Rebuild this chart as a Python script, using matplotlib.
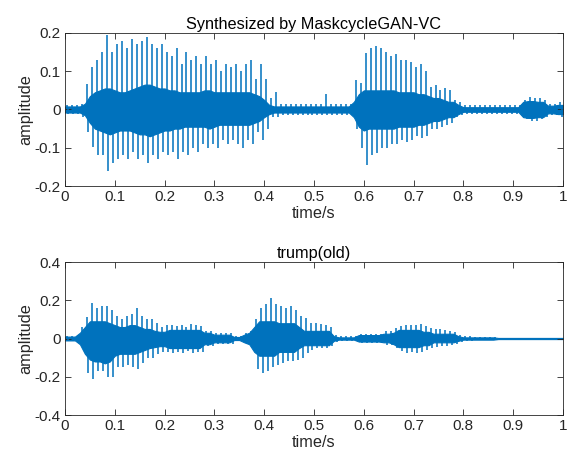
import numpy as np
import matplotlib
matplotlib.use('Agg')
import matplotlib.pyplot as plt

plt.rcParams['font.family'] = ['Liberation Sans', 'DejaVu Sans']

# time grid of the read-off envelope (one value every 10 ms)
t = np.round(np.arange(0, 1.001, 0.01), 2)

# ---- Synthesized by MaskcycleGAN-VC ----
# pitch-pulse peaks (upper / lower)
syn_peak_hi = [0.012, 0.012, 0.012, 0.015, 0.067, 0.11, 0.13, 0.15, 0.195, 0.15,
               0.17, 0.18, 0.16, 0.185, 0.17, 0.18, 0.19, 0.17, 0.16, 0.17,
               0.15, 0.14, 0.16, 0.12, 0.15, 0.13, 0.14, 0.12, 0.14, 0.12,
               0.13, 0.10, 0.12, 0.11, 0.12, 0.10, 0.12, 0.13, 0.08, 0.12,
               0.08, 0.03, 0.045, 0.015, 0.015, 0.015, 0.015, 0.015, 0.015, 0.015,
               0.015, 0.015, 0.04, 0.015, 0.015, 0.015, 0.015, 0.015, 0.077, 0.07,
               0.147, 0.16, 0.165, 0.16, 0.15, 0.14, 0.145, 0.13, 0.13, 0.125,
               0.11, 0.12, 0.10, 0.06, 0.065, 0.05, 0.055, 0.05, 0.025, 0.02,
               0.012, 0.012, 0.012, 0.012, 0.012, 0.012, 0.012, 0.012, 0.012, 0.012,
               0.012, 0.012, 0.025, 0.033, 0.03, 0.03, 0.025, 0.015, 0.015, 0.02,
               0.015]
syn_peak_lo = [-0.012, -0.012, -0.012, -0.02, -0.058, -0.097, -0.12, -0.12, -0.16, -0.14,
               -0.13, -0.12, -0.13, -0.11, -0.13, -0.12, -0.14, -0.12, -0.13, -0.11,
               -0.12, -0.11, -0.13, -0.11, -0.12, -0.10, -0.11, -0.09, -0.10, -0.09,
               -0.10, -0.08, -0.09, -0.08, -0.09, -0.10, -0.08, -0.09, -0.06, -0.08,
               -0.05, -0.02, -0.02, -0.015, -0.015, -0.015, -0.015, -0.015, -0.015, -0.015,
               -0.015, -0.015, -0.015, -0.015, -0.015, -0.015, -0.015, -0.015, -0.05, -0.10,
               -0.145, -0.12, -0.115, -0.10, -0.10, -0.09, -0.09, -0.08, -0.085, -0.08,
               -0.07, -0.075, -0.07, -0.05, -0.05, -0.045, -0.04, -0.035, -0.02, -0.015,
               -0.012, -0.012, -0.012, -0.012, -0.012, -0.012, -0.012, -0.012, -0.012, -0.012,
               -0.012, -0.012, -0.025, -0.03, -0.03, -0.025, -0.02, -0.015, -0.015, -0.02,
               -0.015]
# dense core of the waveform (upper / lower)
syn_core_hi = [0.008, 0.008, 0.008, 0.008, 0.015, 0.035, 0.045, 0.05, 0.055, 0.055,
               0.05, 0.045, 0.045, 0.05, 0.055, 0.06, 0.065, 0.065, 0.06, 0.055,
               0.055, 0.05, 0.05, 0.045, 0.045, 0.045, 0.045, 0.045, 0.05, 0.05,
               0.045, 0.045, 0.045, 0.045, 0.045, 0.045, 0.045, 0.045, 0.04, 0.035,
               0.025, 0.012, 0.008, 0.008, 0.008, 0.008, 0.008, 0.008, 0.008, 0.008,
               0.008, 0.008, 0.008, 0.008, 0.008, 0.008, 0.008, 0.008, 0.02, 0.04,
               0.05, 0.05, 0.05, 0.05, 0.05, 0.05, 0.05, 0.045, 0.045, 0.045,
               0.045, 0.04, 0.04, 0.035, 0.03, 0.03, 0.025, 0.02, 0.02, 0.012,
               0.006, 0.006, 0.006, 0.006, 0.006, 0.006, 0.006, 0.006, 0.006, 0.006,
               0.006, 0.006, 0.02, 0.022, 0.022, 0.02, 0.02, 0.01, 0.01, 0.012,
               0.012]
syn_core_lo = [-0.008, -0.008, -0.008, -0.008, -0.015, -0.035, -0.05, -0.055, -0.06, -0.065,
               -0.06, -0.055, -0.055, -0.055, -0.06, -0.065, -0.065, -0.07, -0.065, -0.06,
               -0.055, -0.055, -0.05, -0.05, -0.045, -0.045, -0.045, -0.045, -0.045, -0.05,
               -0.045, -0.04, -0.04, -0.04, -0.04, -0.04, -0.04, -0.04, -0.035, -0.03,
               -0.02, -0.012, -0.008, -0.008, -0.008, -0.008, -0.008, -0.008, -0.008, -0.008,
               -0.008, -0.008, -0.008, -0.008, -0.008, -0.008, -0.008, -0.008, -0.02, -0.045,
               -0.055, -0.05, -0.05, -0.05, -0.05, -0.05, -0.05, -0.045, -0.045, -0.045,
               -0.045, -0.04, -0.04, -0.035, -0.03, -0.03, -0.025, -0.02, -0.02, -0.012,
               -0.006, -0.006, -0.006, -0.006, -0.006, -0.006, -0.006, -0.006, -0.006, -0.006,
               -0.006, -0.006, -0.02, -0.022, -0.022, -0.02, -0.02, -0.01, -0.01, -0.012,
               -0.012]

# ---- trump(old) ----
old_peak_hi = [0.015, 0.015, 0.015, 0.06, 0.11, 0.185, 0.16, 0.17, 0.17, 0.15,
               0.12, 0.10, 0.12, 0.13, 0.16, 0.12, 0.10, 0.10, 0.08, 0.06,
               0.07, 0.07, 0.065, 0.07, 0.06, 0.075, 0.07, 0.065, 0.04, 0.04,
               0.03, 0.03, 0.03, 0.03, 0.015, 0.015, 0.03, 0.04, 0.10, 0.16,
               0.18, 0.21, 0.18, 0.17, 0.16, 0.17, 0.15, 0.12, 0.105, 0.08,
               0.08, 0.075, 0.07, 0.06, 0.02, 0.012, 0.012, 0.012, 0.012, 0.025,
               0.025, 0.025, 0.025, 0.025, 0.04, 0.04, 0.055, 0.065, 0.07, 0.07,
               0.07, 0.075, 0.065, 0.055, 0.05, 0.05, 0.045, 0.04, 0.035, 0.02,
               0.012, 0.012, 0.01, 0.01, 0.01, 0.008, 0.008, 0.005, 0.005, 0.005,
               0.005, 0.005, 0.005, 0.005, 0.005, 0.005, 0.005, 0.005, 0.005, 0.005,
               0.005]
old_peak_lo = [-0.015, -0.015, -0.015, -0.04, -0.18, -0.21, -0.17, -0.17, -0.20, -0.20,
               -0.15, -0.15, -0.14, -0.15, -0.16, -0.13, -0.10, -0.10, -0.08, -0.07,
               -0.07, -0.075, -0.07, -0.075, -0.065, -0.075, -0.07, -0.07, -0.04, -0.04,
               -0.03, -0.03, -0.03, -0.03, -0.015, -0.015, -0.03, -0.04, -0.16, -0.18,
               -0.17, -0.15, -0.14, -0.13, -0.12, -0.12, -0.11, -0.10, -0.075, -0.06,
               -0.05, -0.05, -0.05, -0.04, -0.02, -0.012, -0.012, -0.012, -0.012, -0.022,
               -0.022, -0.022, -0.022, -0.022, -0.035, -0.035, -0.05, -0.065, -0.075, -0.07,
               -0.075, -0.07, -0.06, -0.05, -0.045, -0.04, -0.04, -0.035, -0.03, -0.02,
               -0.012, -0.012, -0.01, -0.01, -0.01, -0.008, -0.008, -0.005, -0.005, -0.005,
               -0.005, -0.005, -0.005, -0.005, -0.005, -0.005, -0.005, -0.005, -0.005, -0.005,
               -0.005]
old_core_hi = [0.01, 0.01, 0.01, 0.03, 0.06, 0.09, 0.09, 0.09, 0.09, 0.08,
               0.07, 0.06, 0.06, 0.07, 0.07, 0.06, 0.05, 0.05, 0.04, 0.035,
               0.035, 0.045, 0.045, 0.045, 0.045, 0.045, 0.045, 0.045, 0.03, 0.03,
               0.02, 0.02, 0.02, 0.02, 0.008, 0.008, 0.02, 0.03, 0.06, 0.09,
               0.09, 0.09, 0.09, 0.08, 0.08, 0.08, 0.08, 0.06, 0.04, 0.04,
               0.04, 0.04, 0.04, 0.04, 0.012, 0.006, 0.006, 0.006, 0.006, 0.018,
               0.018, 0.018, 0.018, 0.018, 0.025, 0.025, 0.03, 0.045, 0.045, 0.045,
               0.045, 0.045, 0.035, 0.035, 0.025, 0.025, 0.025, 0.025, 0.025, 0.012,
               0.006, 0.006, 0.006, 0.006, 0.006, 0.006, 0.006, 0.003, 0.003, 0.003,
               0.003, 0.003, 0.003, 0.003, 0.003, 0.003, 0.003, 0.003, 0.003, 0.003,
               0.003]
old_core_lo = [-0.01, -0.01, -0.01, -0.03, -0.08, -0.11, -0.12, -0.12, -0.13, -0.12,
               -0.09, -0.08, -0.08, -0.08, -0.08, -0.07, -0.06, -0.05, -0.045, -0.04,
               -0.04, -0.05, -0.05, -0.05, -0.05, -0.05, -0.05, -0.05, -0.03, -0.03,
               -0.02, -0.02, -0.02, -0.02, -0.008, -0.008, -0.02, -0.03, -0.07, -0.09,
               -0.09, -0.09, -0.09, -0.07, -0.07, -0.07, -0.07, -0.05, -0.035, -0.035,
               -0.035, -0.035, -0.035, -0.035, -0.012, -0.006, -0.006, -0.006, -0.006, -0.016,
               -0.016, -0.016, -0.016, -0.016, -0.02, -0.02, -0.03, -0.045, -0.045, -0.045,
               -0.045, -0.045, -0.035, -0.035, -0.02, -0.02, -0.02, -0.02, -0.02, -0.012,
               -0.006, -0.006, -0.006, -0.006, -0.006, -0.006, -0.006, -0.003, -0.003, -0.003,
               -0.003, -0.003, -0.003, -0.003, -0.003, -0.003, -0.003, -0.003, -0.003, -0.003,
               -0.003]

titles = ['Synthesized by MaskcycleGAN-VC', 'trump(old)']
ylims = [0.2, 0.4]
yticks = [[-0.2, -0.1, 0, 0.1, 0.2], [-0.4, -0.2, 0, 0.2, 0.4]]
xticks = [0, 0.1, 0.2, 0.3, 0.4, 0.5, 0.6, 0.7, 0.8, 0.9, 1]

blue = '#0072BD'
fig = plt.figure(figsize=(5.68, 4.62), dpi=100)
ax1 = fig.add_axes([0.1144, 0.5974, 0.8768, 0.3312])
ax2 = fig.add_axes([0.1144, 0.1017, 0.8768, 0.3312])

panels = [(ax1, syn_peak_hi, syn_peak_lo, syn_core_hi, syn_core_lo),
          (ax2, old_peak_hi, old_peak_lo, old_core_hi, old_core_lo)]

for i, (ax, phi, plo, chi, clo) in enumerate(panels):
    ax.fill_between(t, clo, chi, color=blue, lw=0.8)
    # upward and downward parts of each pulse, slightly apart as in the trace
    ax.vlines(t + 0.004, 0, phi, color=blue, lw=1.3, alpha=0.85)
    ax.vlines(t + 0.007, plo, 0, color=blue, lw=1.3, alpha=0.85)
    ax.set_xlim(0, 1)
    ax.set_ylim(-ylims[i], ylims[i])
    ax.set_xticks(xticks)
    ax.set_xticklabels(['%g' % v for v in xticks])
    ax.set_yticks(yticks[i])
    ax.set_yticklabels(['%g' % v for v in yticks[i]])
    ax.tick_params(direction='in', length=4, width=0.6, top=True, right=True,
                   labelsize=11, colors='#262626', pad=3)
    for s in ax.spines.values():
        s.set_linewidth(0.6)
        s.set_color('#262626')
    ax.set_title(titles[i], fontsize=11.7, color='#000000', pad=3)
    ax.set_xlabel('time/s', fontsize=11.7, color='#262626', labelpad=1)
    ax.set_ylabel('amplitude', fontsize=11.7, color='#262626', labelpad=1)

fig.savefig('out.png', dpi=100)
